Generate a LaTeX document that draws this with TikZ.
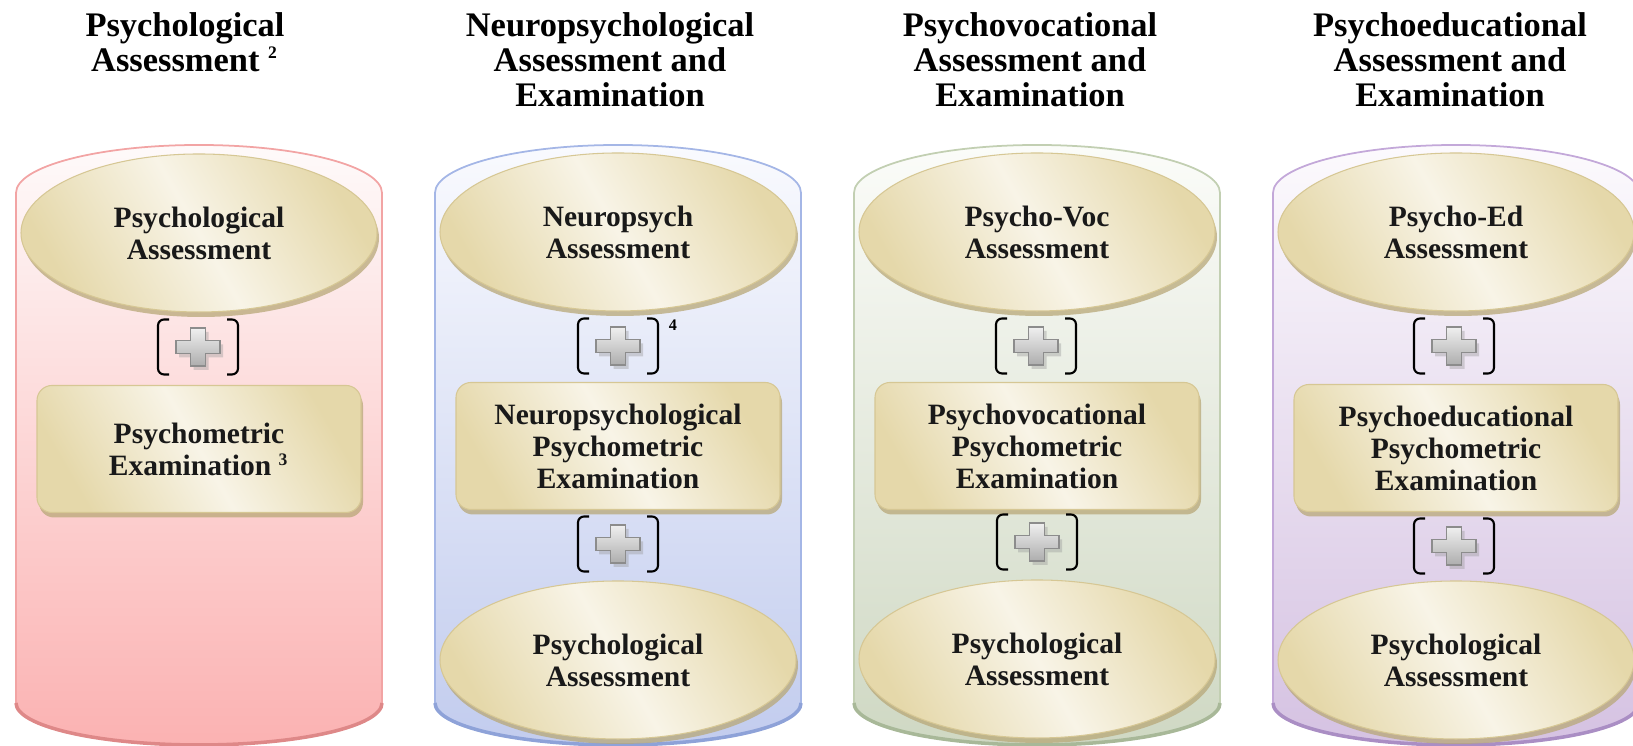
\documentclass[tikz,border=0pt]{standalone}
\usepackage{fontspec}
\setmainfont{Liberation Serif}
\usetikzlibrary{shapes.geometric,shadows}

\definecolor{goldA}{HTML}{E5D8AA}
\definecolor{goldB}{HTML}{F8F4E7}
\definecolor{goldline}{HTML}{D6C794}
\definecolor{goldshadow}{HTML}{B8A878}
\definecolor{pinkT}{HTML}{FEFAFA}
\definecolor{pinkB}{HTML}{FBB2B2}
\definecolor{pinkline}{HTML}{F2A4A4}
\definecolor{pinkrim}{HTML}{DE8888}
\definecolor{blueT}{HTML}{F9FAFE}
\definecolor{blueB}{HTML}{C2CCEE}
\definecolor{blueline}{HTML}{A4B6E6}
\definecolor{bluerim}{HTML}{8EA2D8}
\definecolor{greenT}{HTML}{FBFCF9}
\definecolor{greenB}{HTML}{CFD8C3}
\definecolor{greenline}{HTML}{C2CFB2}
\definecolor{greenrim}{HTML}{A8B898}
\definecolor{lilacT}{HTML}{FCFAFD}
\definecolor{lilacB}{HTML}{D5C2E2}
\definecolor{lilacline}{HTML}{C3A8D9}
\definecolor{lilacrim}{HTML}{AA8EC4}

\begin{document}
\begin{tikzpicture}[
    heading/.style ={anchor=north, align=center, inner sep=0,
      font=\fontsize{9.8}{9.9}\selectfont\bfseries},
    cell/.style ={draw=goldline, line width=0.3pt, left color=goldA,
      right color=goldA, middle color=goldB, shading angle=-60,
      align=center, inner sep=0, text=black!90,
      font=\fontsize{8.4}{9.1}\selectfont\bfseries,
      drop shadow={shadow xshift=0.2mm, shadow yshift=-0.5mm,
        fill=goldshadow, opacity=0.75}},
    assess/.style ={cell, ellipse, minimum width=3.56cm, minimum height=1.58cm},
    exam/.style ={cell, rounded corners=1.5mm, minimum width=3.24cm,
      minimum height=1.27cm},
    joiner/.style ={minimum width=0.84cm, minimum height=0.59cm, inner sep=0,
      path picture={
        \draw[line width=0.6pt, rounded corners=0.6mm]
          ([xshift=1.3mm,yshift=-0.2mm]path picture bounding box.north west)
          -- ([xshift=0.2mm,yshift=-0.2mm]path picture bounding box.north west)
          -- ([xshift=0.2mm,yshift=0.2mm]path picture bounding box.south west)
          -- ([xshift=1.3mm,yshift=0.2mm]path picture bounding box.south west);
        \draw[line width=0.6pt, rounded corners=0.6mm]
          ([xshift=-1.3mm,yshift=-0.2mm]path picture bounding box.north east)
          -- ([xshift=-0.2mm,yshift=-0.2mm]path picture bounding box.north east)
          -- ([xshift=-0.2mm,yshift=0.2mm]path picture bounding box.south east)
          -- ([xshift=-1.3mm,yshift=0.2mm]path picture bounding box.south east);
        \draw[draw=black!45, line width=0.3pt, top color=black!6,
          bottom color=black!32, shift={(path picture bounding box.center)},
          preaction={fill=black!40, opacity=0.4,
            transform canvas={xshift=0.3mm, yshift=-0.4mm}}]
          (-0.22,-0.065) -- (-0.075,-0.065) -- (-0.075,-0.19) -- (0.075,-0.19)
          -- (0.075,-0.065) -- (0.22,-0.065) -- (0.22,0.065) -- (0.075,0.065)
          -- (0.075,0.19) -- (-0.075,0.19) -- (-0.075,0.065) -- (-0.22,0.065)
          -- cycle;
      }}]
   \useasboundingbox (0,0) rectangle (16.33,7.46);

   % cylinders
   \draw[draw=pinkline, line width=0.5pt, top color=pinkT, bottom color=pinkB]
     (0.16,5.53) arc[start angle=180, end angle=0, x radius=1.83, y radius=0.48]
     -- (3.82,0.43) arc[start angle=0, end angle=-180, x radius=1.83, y radius=0.42]
     -- cycle;
   \draw[draw=pinkrim, line width=1pt]
     (0.16,0.43) arc[start angle=180, end angle=360, x radius=1.83, y radius=0.42];
   \draw[draw=blueline, line width=0.5pt, top color=blueT, bottom color=blueB]
     (4.35,5.53) arc[start angle=180, end angle=0, x radius=1.83, y radius=0.48]
     -- (8.01,0.43) arc[start angle=0, end angle=-180, x radius=1.83, y radius=0.42]
     -- cycle;
   \draw[draw=bluerim, line width=1pt]
     (4.35,0.43) arc[start angle=180, end angle=360, x radius=1.83, y radius=0.42];
   \draw[draw=greenline, line width=0.5pt, top color=greenT, bottom color=greenB]
     (8.54,5.53) arc[start angle=180, end angle=0, x radius=1.83, y radius=0.48]
     -- (12.20,0.43) arc[start angle=0, end angle=-180, x radius=1.83, y radius=0.42]
     -- cycle;
   \draw[draw=greenrim, line width=1pt]
     (8.54,0.43) arc[start angle=180, end angle=360, x radius=1.83, y radius=0.42];
   \draw[draw=lilacline, line width=0.5pt, top color=lilacT, bottom color=lilacB]
     (12.73,5.53) arc[start angle=180, end angle=0, x radius=1.83, y radius=0.48]
     -- (16.39,0.43) arc[start angle=0, end angle=-180, x radius=1.83, y radius=0.42]
     -- cycle;
   \draw[draw=lilacrim, line width=1pt]
     (12.73,0.43) arc[start angle=180, end angle=360, x radius=1.83, y radius=0.42];

   % headings
   \node[heading] (T1) at (1.85,7.34)
     {Psychological\\Assessment \textsuperscript{\fontsize{5}{6}\selectfont 2}};
   \node[heading] (T2) at (6.10,7.34) {Neuropsychological\\Assessment and\\Examination};
   \node[heading] (T3) at (10.30,7.34) {Psychovocational\\Assessment and\\Examination};
   \node[heading] (T4) at (14.50,7.34) {Psychoeducational\\Assessment and\\Examination};

   % column 1
   \node[assess] (A1) at (1.99,5.13) {Psychological\\Assessment};
   \node[joiner] (J1) at (1.98,3.99) {};
   \node[exam] (E1) at (1.99,2.97)
     {Psychometric\\Examination \textsuperscript{\fontsize{5}{6}\selectfont 3}};

   % column 2
   \node[assess] (A2) at (6.18,5.14) {Neuropsych\\Assessment};
   \node[joiner] (J2) at (6.18,4.00) {};
   \node[font=\fontsize{4.6}{5}\selectfont\bfseries, inner sep=0] (N2) at (6.73,4.21) {4};
   \node[exam] (E2) at (6.18,3.00) {Neuropsychological\\Psychometric\\Examination};
   \node[joiner] (K2) at (6.18,2.02) {};
   \node[assess] (B2) at (6.18,0.86) {Psychological\\Assessment};

   % column 3
   \node[assess] (A3) at (10.37,5.14) {Psycho-Voc\\Assessment};
   \node[joiner] (J3) at (10.36,4.00) {};
   \node[exam] (E3) at (10.37,3.00) {Psychovocational\\Psychometric\\Examination};
   \node[joiner] (K3) at (10.37,2.04) {};
   \node[assess] (B3) at (10.37,0.87) {Psychological\\Assessment};

   % column 4
   \node[assess] (A4) at (14.56,5.14) {Psycho-Ed\\Assessment};
   \node[joiner] (J4) at (14.54,4.00) {};
   \node[exam] (E4) at (14.56,2.98) {Psychoeducational\\Psychometric\\Examination};
   \node[joiner] (K4) at (14.54,2.00) {};
   \node[assess] (B4) at (14.56,0.86) {Psychological\\Assessment};
 \end{tikzpicture}
\end{document}
